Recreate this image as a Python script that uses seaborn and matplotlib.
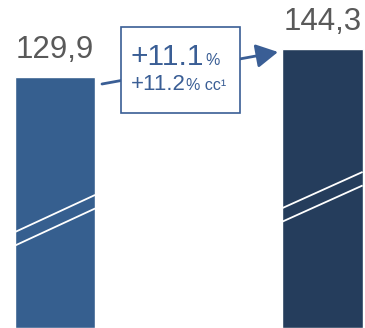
import numpy as np
import pandas as pd
import matplotlib
matplotlib.use("Agg")
import matplotlib.pyplot as plt
import seaborn as sns
from matplotlib.patches import Rectangle

# данные
categories = ["prev", "curr"]
values = [129.9, 144.3]
value_labels = ["129,9", "144,3"]
bar_colors = ["#365F8F", "#253D5C"]
growth_main = "+11.1"
growth_cc = "+11.2"
break_y = [[49.6, 68.8], [62.0, 80.7]]   # нижняя линия разрыва (левый/правый край)
break_gap = 7.0

sns.set_theme(style="white")
plt.rcParams["font.family"] = ["Liberation Sans", "DejaVu Sans"]

df = pd.DataFrame({"cat": categories, "val": values})

fig = plt.figure(figsize=(3.65, 3.28), dpi=100)
ax = fig.add_axes([0, 0, 1, 1])
sns.barplot(data=df, x="cat", y="val", hue="cat", palette=bar_colors,
            width=0.3, legend=False, ax=ax, saturation=1)
ax.set_xlim(-0.2056, 1.159)
ax.set_ylim(0, 169.6)
ax.axis("off")

# подписи значений
for i, (v, lab) in enumerate(zip(values, value_labels)):
    ax.text(i, v + 6, lab, ha="center", va="bottom", fontsize=22.5, color="#595959")

# линии разрыва
for i, (y0, y1) in enumerate(break_y):
    for off in (0, break_gap):
        ax.plot([i - 0.15, i + 0.15], [y0 - off, y1 - off], color="white", lw=1.3,
                solid_capstyle="butt", zorder=5)

# стрелка
blue = "#3A5E95"
ax.annotate("", xy=(278 / 365, 1 - 52 / 328), xytext=(102 / 365, 1 - 84 / 328),
            xycoords="axes fraction", textcoords="axes fraction",
            arrowprops=dict(arrowstyle="-|>,head_length=1.1,head_width=0.6",
                            color=blue, lw=2.0, shrinkA=0, shrinkB=0), zorder=6)

# рамка с ростом
ax.add_patch(Rectangle((121 / 365, 1 - 113 / 328), 119 / 365, 86 / 328,
                       transform=ax.transAxes, facecolor="white", edgecolor=blue,
                       lw=1.2, zorder=7))
ax.text(131 / 365, 1 - 65 / 328, growth_main, transform=ax.transAxes, ha="left",
        va="baseline", fontsize=21.5, color=blue, zorder=8)
ax.text(205 / 365, 1 - 65 / 328, "%", transform=ax.transAxes, ha="left",
        va="baseline", fontsize=11.5, color=blue, zorder=8)
ax.text(131 / 365, 1 - 90 / 328, growth_cc, transform=ax.transAxes, ha="left",
        va="baseline", fontsize=16, color=blue, zorder=8)
ax.text(185.5 / 365, 1 - 90 / 328, "% cc¹", transform=ax.transAxes, ha="left",
        va="baseline", fontsize=11.5, color=blue, zorder=8)

fig.savefig("out.png", dpi=100)
